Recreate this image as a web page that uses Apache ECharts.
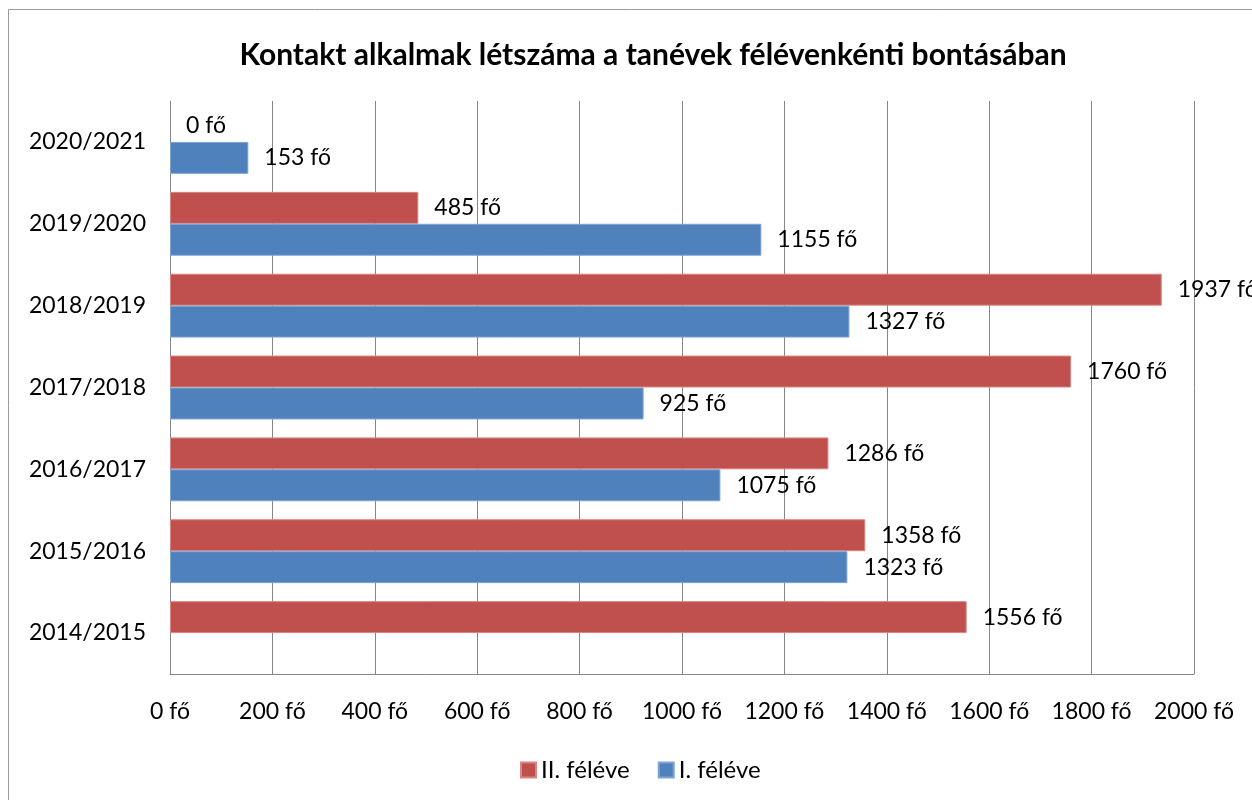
<!DOCTYPE html>
<html>
<head>
<meta charset="utf-8">
<script src="https://cdn.jsdelivr.net/npm/echarts@6/dist/echarts.min.js"></script>
<style>
html,body{margin:0;padding:0;background:#fff;}
#main{width:1252px;height:800px;}
</style>
</head>
<body>
<div id="main"></div>
<script>
// tanévek (alulról felfelé)
var years = ['2014/2015','2015/2016','2016/2017','2017/2018','2018/2019','2019/2020','2020/2021'];
// I. féléve
var firstHalf = [null, 1323, 1075, 925, 1327, 1155, 153];
// II. féléve
var secondHalf = [1556, 1358, 1286, 1760, 1937, 485, 0];
var xTicks = [0, 200, 400, 600, 800, 1000, 1200, 1400, 1600, 1800, 2000];

var myChart = echarts.init(document.getElementById('main'));
var font = 'Lato, "Open Sans", sans-serif';

var labelOpt = {
    show: true,
    position: 'right',
    distance: 16,
    color: '#000',
    fontSize: 23,
    fontFamily: font,
    formatter: function(p){ return p.value + ' fő'; }
};

// a 0 értékű oszlopnak ne legyen látható kerete
function noZeroBorder(arr){
    return arr.map(function(v){
        return v === 0 ? {value: 0, itemStyle: {borderWidth: 0}} : v;
    });
}

var option = {
    animation: false,
    title: {
        text: 'Kontakt alkalmak létszáma a tanévek félévenkénti bontásában',
        left: 648,
        textAlign: 'center',
        top: 35,
        textStyle: {fontSize: 30, fontWeight: 'bold', color: '#000', fontFamily: font}
    },
    legend: {
        data: ['II. féléve', 'I. féléve'],
        top: 753,
        left: 515,
        itemWidth: 15,
        itemHeight: 15,
        itemGap: 28,
        icon: 'rect',
        textStyle: {fontSize: 24, color: '#000', fontFamily: font}
    },
    grid: {left: 170, right: 58, top: 101, bottom: 126},
    xAxis: {
        type: 'value',
        min: 0,
        max: 2000,
        interval: xTicks[1] - xTicks[0],
        axisLine: {show: true, lineStyle: {color: '#868686'}},
        axisTick: {show: false},
        splitLine: {show: true, lineStyle: {color: '#868686', width: 1}},
        axisLabel: {
            margin: 26,
            fontSize: 23,
            color: '#000',
            fontFamily: font,
            formatter: function(v){ return v + ' fő'; }
        }
    },
    yAxis: {
        type: 'category',
        data: years,
        axisLine: {show: true, lineStyle: {color: '#868686'}},
        axisTick: {show: false},
        axisLabel: {margin: 24, fontSize: 23, color: '#000', fontFamily: font}
    },
    series: [
        {
            name: 'II. féléve',
            type: 'bar',
            data: noZeroBorder(secondHalf),
            barGap: '0%',
            barCategoryGap: '22%',
            itemStyle: {color: '#C0504D', borderColor: '#D88583', borderWidth: 1},
            label: labelOpt
        },
        {
            name: 'I. féléve',
            type: 'bar',
            data: noZeroBorder(firstHalf),
            barGap: '0%',
            barCategoryGap: '22%',
            itemStyle: {color: '#4F81BD', borderColor: '#7FA3D3', borderWidth: 1},
            label: labelOpt
        }
    ],
    graphic: [{
        type: 'rect',
        shape: {x: 8.5, y: 9.5, width: 1400, height: 1000},
        style: {fill: null, stroke: '#9a9a9a', lineWidth: 1},
        silent: true
    }]
};
myChart.setOption(option);
</script>
</body>
</html>
